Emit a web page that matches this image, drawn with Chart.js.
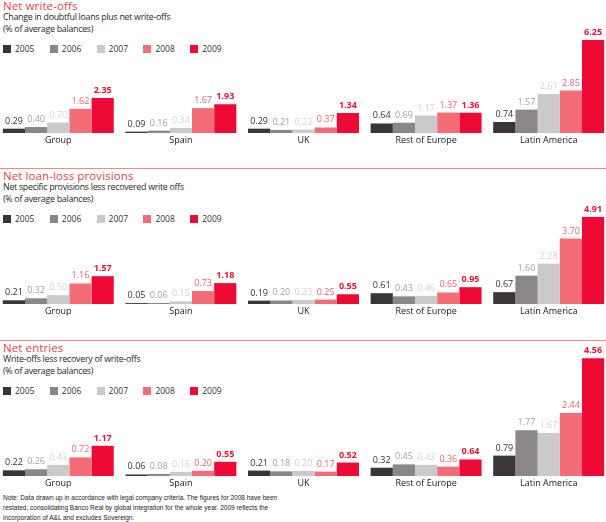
<!DOCTYPE html>
<html>
<head>
<meta charset="utf-8">
<script src="https://cdn.jsdelivr.net/npm/chart.js@4.4.1/dist/chart.umd.min.js"></script>
<style>
  body { margin: 0; width: 606px; height: 522px; overflow: hidden; position: relative; background: #fff; font-family: "Open Sans", sans-serif; }
  .abs { position: absolute; }
  .title { left: 3px; font-size: 11.5px; letter-spacing: 0.1px; color: #ec3d4e; line-height: 12px; white-space: nowrap; }
  .sub { left: 3px; font-size: 8.9px; letter-spacing: -0.3px; color: #2a2a2a; line-height: 12px; white-space: nowrap; }
  .sub span { color: #2a2a2a; }
  .rule { left: 0; width: 606px; height: 1px; background: #f3878e; }
  .legend { left: 3px; height: 12px; width: 260px; font-size: 8.5px; color: #333; line-height: 12px; }
  .legend .item { position: absolute; top: 0; white-space: nowrap; }
  .legend i { position: absolute; left: 0; top: 2px; width: 8px; height: 8px; }
  .legend b { position: absolute; left: 12px; top: 0; font-weight: normal; }
  .chartbox { left: -3px; width: 613px; z-index: 1; }
  .note { left: 3px; top: 493px; font-family: "Liberation Sans", sans-serif; font-size: 6.5px; line-height: 10px; color: #222; white-space: nowrap; }
</style>
</head>
<body>
<div class="note abs">Note: Data drawn up in accordance with legal company criteria. The figures for 2008 have been<br>restated, consolidating Banco Real by global integration for the whole year. 2009 reflects the<br>incorporation of A&amp;L and excludes Sovereign.</div>
<script>
const categories = ["Group", "Spain", "UK", "Rest of Europe", "Latin America"];
const years = ["2005", "2006", "2007", "2008", "2009"];

// one row per year, one value per category
const writeOffs = [
  [0.29, 0.09, 0.29, 0.64, 0.74],
  [0.40, 0.16, 0.21, 0.69, 1.57],
  [0.70, 0.34, 0.23, 1.17, 2.61],
  [1.62, 1.67, 0.37, 1.37, 2.85],
  [2.35, 1.93, 1.34, 1.36, 6.25]
];
const provisions = [
  [0.21, 0.05, 0.19, 0.61, 0.67],
  [0.32, 0.06, 0.20, 0.43, 1.60],
  [0.50, 0.15, 0.23, 0.46, 2.28],
  [1.16, 0.73, 0.25, 0.65, 3.70],
  [1.57, 1.18, 0.55, 0.95, 4.91]
];
const netEntries = [
  [0.22, 0.06, 0.21, 0.32, 0.79],
  [0.26, 0.08, 0.18, 0.45, 1.77],
  [0.43, 0.16, 0.20, 0.43, 1.67],
  [0.72, 0.20, 0.17, 0.36, 2.44],
  [1.17, 0.55, 0.52, 0.64, 4.56]
];

const barColors = ["#3a3538", "#8a8689", "#cbc9cc", "#f46c76", "#ef0a35"];
const labelColors = ["#333333", "#a3a3a3", "#d4d4d4", "#f2646f", "#ee1237"];

const valueLabels = {
  id: "valueLabels",
  afterDatasetsDraw(chart) {
    const ctx = chart.ctx;
    chart.data.datasets.forEach((ds, i) => {
      chart.getDatasetMeta(i).data.forEach((bar, j) => {
        ctx.save();
        ctx.font = (i === 4 ? "bold " : "") + '9px "Open Sans"';
        ctx.fillStyle = labelColors[i];
        ctx.textAlign = "center";
        ctx.textBaseline = "alphabetic";
        ctx.fillText(ds.data[j].toFixed(2), bar.x, bar.y - 5);
        ctx.restore();
      });
    });
  }
};

function el(cls, top, html) {
  const d = document.createElement("div");
  d.className = cls + " abs";
  d.style.top = top + "px";
  if (html) d.innerHTML = html;
  document.body.appendChild(d);
  return d;
}

function makePanel(title, subLines, values, top, chartTop, baseline, ymax) {
  if (top > 0) el("rule", top - 2);
  el("title", top, title);
  el("sub", top + 11, subLines.map((s) => "<span>" + s + "</span>").join("<br>"));
  const legend = el("legend", top + 43);
  years.forEach((y, i) => {
    const item = document.createElement("span");
    item.className = "item";
    item.style.left = (i * 46.8) + "px";
    item.innerHTML = '<i style="background:' + barColors[i] + '"></i><b>' + y + "</b>";
    legend.appendChild(item);
  });

  const box = el("chartbox", chartTop);
  box.style.height = (baseline - chartTop + 16) + "px";
  const canvas = document.createElement("canvas");
  box.appendChild(canvas);

  new Chart(canvas, {
    type: "bar",
    data: {
      labels: categories,
      datasets: years.map((y, i) => ({
        label: y,
        data: values[i],
        backgroundColor: barColors[i],
        borderWidth: 0,
        categoryPercentage: 0.905,
        barPercentage: 1
      }))
    },
    options: {
      responsive: true,
      maintainAspectRatio: false,
      animation: false,
      layout: { padding: 0 },
      plugins: { legend: { display: false }, tooltip: { enabled: false } },
      scales: {
        x: {
          grid: { display: false, drawTicks: false },
          border: { display: false },
          ticks: { padding: 2, color: "#1a1a1a", font: { family: "Open Sans", size: 9 } },
          afterFit: (s) => { s.height = 16; }
        },
        y: { display: false, min: 0, max: ymax }
      }
    },
    plugins: [valueLabels]
  });
}

makePanel("Net write-offs",
  ["Change in doubtful loans plus net write-offs", "(% of average balances)"],
  writeOffs, 0, 20, 133, 113 / 14.9);
makePanel("Net loan-loss provisions",
  ["Net specific provisions less recovered write offs", "(% of average balances)"],
  provisions, 170, 190, 304, 114 / 17.7);
makePanel("Net entries",
  ["Write-offs less recovery of write-offs", "(% of average balances)"],
  netEntries, 342, 340, 476, 136 / 25.8);
</script>
</body>
</html>
